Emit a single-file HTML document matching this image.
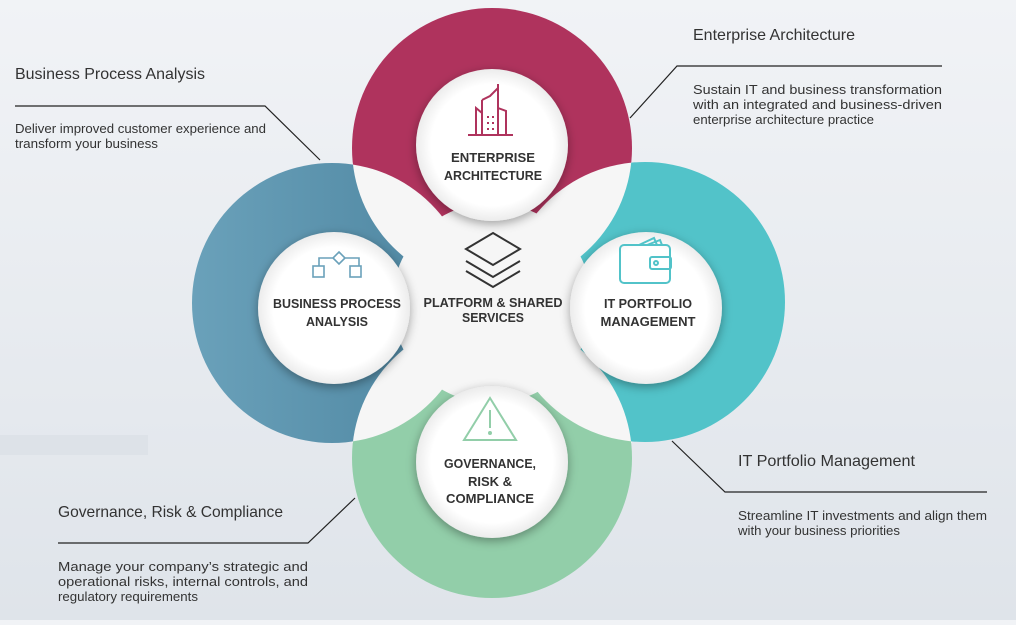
<!DOCTYPE html>
<html><head><meta charset="utf-8"><style>
html,body{margin:0;padding:0;}
body{width:1016px;height:620px;overflow:hidden;background:linear-gradient(#f1f3f6,#dfe4ea);font-family:"Liberation Sans",sans-serif;}
</style></head><body>
<svg width="1016" height="620" viewBox="0 0 1016 620" xmlns="http://www.w3.org/2000/svg" font-family="Liberation Sans, sans-serif">
<defs>
<linearGradient id="bl" x1="0" x2="1" y1="0" y2="0"><stop offset="0" stop-color="#6aa1ba"/><stop offset="1" stop-color="#4c849f"/></linearGradient>
<radialGradient id="wg" cx="0.5" cy="0.5" r="0.5"><stop offset="0.8" stop-color="#ffffff"/><stop offset="1" stop-color="#ececec"/></radialGradient>
<filter id="sh" x="-30%" y="-30%" width="160%" height="160%"><feDropShadow dx="0" dy="3" stdDeviation="5" flood-color="#000" flood-opacity="0.35"/></filter>
<mask id="mT" maskUnits="userSpaceOnUse" x="0" y="0" width="1016" height="620"><rect width="1016" height="620" fill="#fff"/><circle cx="332" cy="303" r="140" fill="#000"/><circle cx="645" cy="302" r="140" fill="#000"/><circle cx="492" cy="303" r="100" fill="#000"/></mask>
<mask id="mL" maskUnits="userSpaceOnUse" x="0" y="0" width="1016" height="620"><rect width="1016" height="620" fill="#fff"/><circle cx="492" cy="148" r="140" fill="#000"/><circle cx="492" cy="458" r="140" fill="#000"/><circle cx="492" cy="303" r="100" fill="#000"/></mask>
</defs>
<rect x="0" y="435" width="148" height="20" fill="#dde2e8"/>
<rect x="352" y="163" width="280" height="280" fill="#f6f6f6"/>
<circle cx="492" cy="148" r="140" fill="#af335d" mask="url(#mT)"/>
<circle cx="645" cy="302" r="140" fill="#52c3c9" mask="url(#mL)"/>
<circle cx="492" cy="458" r="140" fill="#92cea9" mask="url(#mT)"/>
<circle cx="332" cy="303" r="140" fill="url(#bl)" mask="url(#mL)"/>
<circle cx="492" cy="145" r="76" fill="url(#wg)" filter="url(#sh)"/>
<circle cx="334" cy="308" r="76" fill="url(#wg)" filter="url(#sh)"/>
<circle cx="646" cy="308" r="76" fill="url(#wg)" filter="url(#sh)"/>
<circle cx="492" cy="462" r="76" fill="url(#wg)" filter="url(#sh)"/>
<g stroke="#af335d" stroke-width="2" fill="none">
<path d="M468,135 H513 M476,135 V108 L482,113 V135 M482,100 L490,96 L498,88 V135 M498,88 V84 M482,100 V113 M498,108 L506,111 V135"/>
<path d="M488,116v2M488,122v2M488,128v2M493,116v2M493,122v2M493,128v2"/>
</g>
<g stroke="#6aa1ba" stroke-width="1.6" fill="none">
<path d="M339,252 l6,6 -6,6 -6,-6z M333,258 h-14 v8 M345,258 h14 v8"/>
<rect x="313" y="266" width="11" height="11"/><rect x="350" y="266" width="11" height="11"/>
</g>
<g stroke="#333" stroke-width="2" fill="none">
<path d="M493,233 L520,249 L493,265 L466,249 Z M466,261 L493,277 L520,261 M466,271 L493,287 L520,271"/>
</g>
<g stroke="#52c3c9" stroke-width="2" fill="none">
<rect x="620" y="245" width="50" height="38" rx="4"/>
<rect x="650" y="257" width="21" height="12" rx="2"/><circle cx="656" cy="263" r="2"/>
<path d="M639,245 L654,238 L657,245 M647,245 L660,240 L662,245"/>
</g>
<g stroke="#92cea9" stroke-width="2" fill="none">
<path d="M490,398 L464,440 H516 Z"/>
<path d="M490,410 V428" /><circle cx="490" cy="433" r="1" fill="#92cea9"/>
</g>
<g fill="#333" font-size="13" font-weight="bold" text-anchor="middle">
<text x="493" y="162" textLength="84" lengthAdjust="spacingAndGlyphs">ENTERPRISE</text><text x="493" y="180" textLength="98" lengthAdjust="spacingAndGlyphs">ARCHITECTURE</text>
<text x="337" y="308" textLength="128" lengthAdjust="spacingAndGlyphs">BUSINESS PROCESS</text><text x="337" y="326" textLength="62" lengthAdjust="spacingAndGlyphs">ANALYSIS</text>
<text x="493" y="307" textLength="139" lengthAdjust="spacingAndGlyphs">PLATFORM &amp; SHARED</text><text x="493" y="322" textLength="62" lengthAdjust="spacingAndGlyphs">SERVICES</text>
<text x="648" y="308" textLength="88" lengthAdjust="spacingAndGlyphs">IT PORTFOLIO</text><text x="648" y="326" textLength="95" lengthAdjust="spacingAndGlyphs">MANAGEMENT</text>
<text x="490" y="468" textLength="92" lengthAdjust="spacingAndGlyphs">GOVERNANCE,</text><text x="490" y="486">RISK &amp;</text><text x="490" y="503" textLength="88" lengthAdjust="spacingAndGlyphs">COMPLIANCE</text>
</g>
<g stroke="#222" stroke-width="1.2" fill="none">
<path d="M15,106 H265 L320,160"/>
<path d="M630,118 L677,66 H942"/>
<path d="M672,441 L725,492 H987"/>
<path d="M58,543 H308 L355,498"/>
</g>
<g fill="#333">
<text x="15" y="79" font-size="16" textLength="190" lengthAdjust="spacingAndGlyphs">Business Process Analysis</text>
<text x="15" y="133" font-size="13" textLength="251" lengthAdjust="spacingAndGlyphs">Deliver improved customer experience and</text>
<text x="15" y="148" font-size="13" textLength="143" lengthAdjust="spacingAndGlyphs">transform your business</text>
<text x="693" y="40" font-size="16" textLength="162" lengthAdjust="spacingAndGlyphs">Enterprise Architecture</text>
<text x="693" y="94" font-size="13" textLength="249" lengthAdjust="spacingAndGlyphs">Sustain IT and business transformation</text>
<text x="693" y="109" font-size="13" textLength="249" lengthAdjust="spacingAndGlyphs">with an integrated and business-driven</text>
<text x="693" y="124" font-size="13" textLength="181" lengthAdjust="spacingAndGlyphs">enterprise architecture practice</text>
<text x="738" y="466" font-size="16" textLength="177" lengthAdjust="spacingAndGlyphs">IT Portfolio Management</text>
<text x="738" y="520" font-size="13" textLength="249" lengthAdjust="spacingAndGlyphs">Streamline IT investments and align them</text>
<text x="738" y="535" font-size="13" textLength="162" lengthAdjust="spacingAndGlyphs">with your business priorities</text>
<text x="58" y="517" font-size="16" textLength="225" lengthAdjust="spacingAndGlyphs">Governance, Risk &amp; Compliance</text>
<text x="58" y="571" font-size="13" textLength="250" lengthAdjust="spacingAndGlyphs">Manage your company’s strategic and</text>
<text x="58" y="586" font-size="13" textLength="250" lengthAdjust="spacingAndGlyphs">operational risks, internal controls, and</text>
<text x="58" y="601" font-size="13" textLength="140" lengthAdjust="spacingAndGlyphs">regulatory requirements</text>
</g>
</svg>
</body></html>
